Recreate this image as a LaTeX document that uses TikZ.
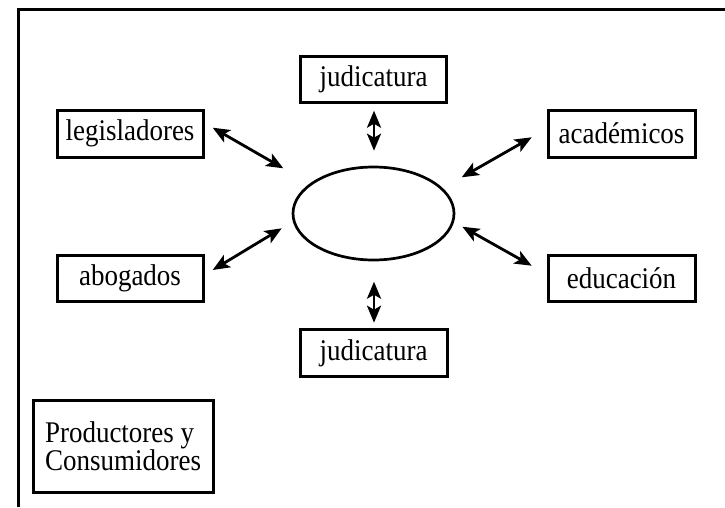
\documentclass[tikz,border=0pt]{standalone}
\usepackage{fontspec}
\setmainfont[FakeStretch=0.9]{Liberation Serif}
\usetikzlibrary{arrows.meta,shapes.geometric}
\begin{document}
\begin{tikzpicture}[x=1pt,y=-1pt,
  box/.style={draw,line width=3pt,rectangle,inner sep=0pt,font=\fontsize{30}{27}\selectfont},
  link/.style={line width=2.8pt,{Stealth[length=17pt,width=14pt,inset=4pt]}-{Stealth[length=17pt,width=14pt,inset=4pt]}}]
\useasboundingbox (0,0) rectangle (725,507);
\draw[line width=3pt] (18.5,507) -- (18.5,9.5) -- (725,9.5);
\node[box,minimum width=146pt,minimum height=46pt] (judT) at (373.5,79) {judicatura};
\node[box,minimum width=146pt,minimum height=47pt] (leg) at (130,133.5) {legisladores};
\node[box,minimum width=147pt,minimum height=47pt] (acad) at (621.5,133.5) {académicos};
\node[box,minimum width=146pt,minimum height=46pt] (abog) at (130,278) {abogados};
\node[box,minimum width=147pt,minimum height=46pt] (edu) at (621.5,278) {educación};
\node[box,minimum width=147pt,minimum height=47pt] (judB) at (373.5,353) {judicatura};
\node[box,minimum width=180pt,minimum height=92pt,align=left] (prod) at (123,446) {Productores y\\Consumidores};
\node[draw,line width=2.7pt,ellipse,minimum width=161pt,minimum height=93pt,inner sep=0pt] (ell) at (373.5,213.5) {};
\coordinate (e1) at (212.7,127.7); \coordinate (f1) at (283.3,168.3);
\coordinate (e2) at (212.7,270); \coordinate (f2) at (281.7,228.3);
\coordinate (e3) at (531.7,137.3); \coordinate (f3) at (461.7,177.3);
\coordinate (e4) at (531.7,265.7); \coordinate (f4) at (462.3,226.7);
\coordinate (e5) at (374,110.7); \coordinate (f5) at (374,150.7);
\coordinate (e6) at (374,322.7); \coordinate (f6) at (374,281.7);
\draw[link] (e1) -- (f1);
\draw[link] (e2) -- (f2);
\draw[link] (e3) -- (f3);
\draw[link] (e4) -- (f4);
\draw[link] (e5) -- (f5);
\draw[link] (e6) -- (f6);
\end{tikzpicture}
\end{document}
